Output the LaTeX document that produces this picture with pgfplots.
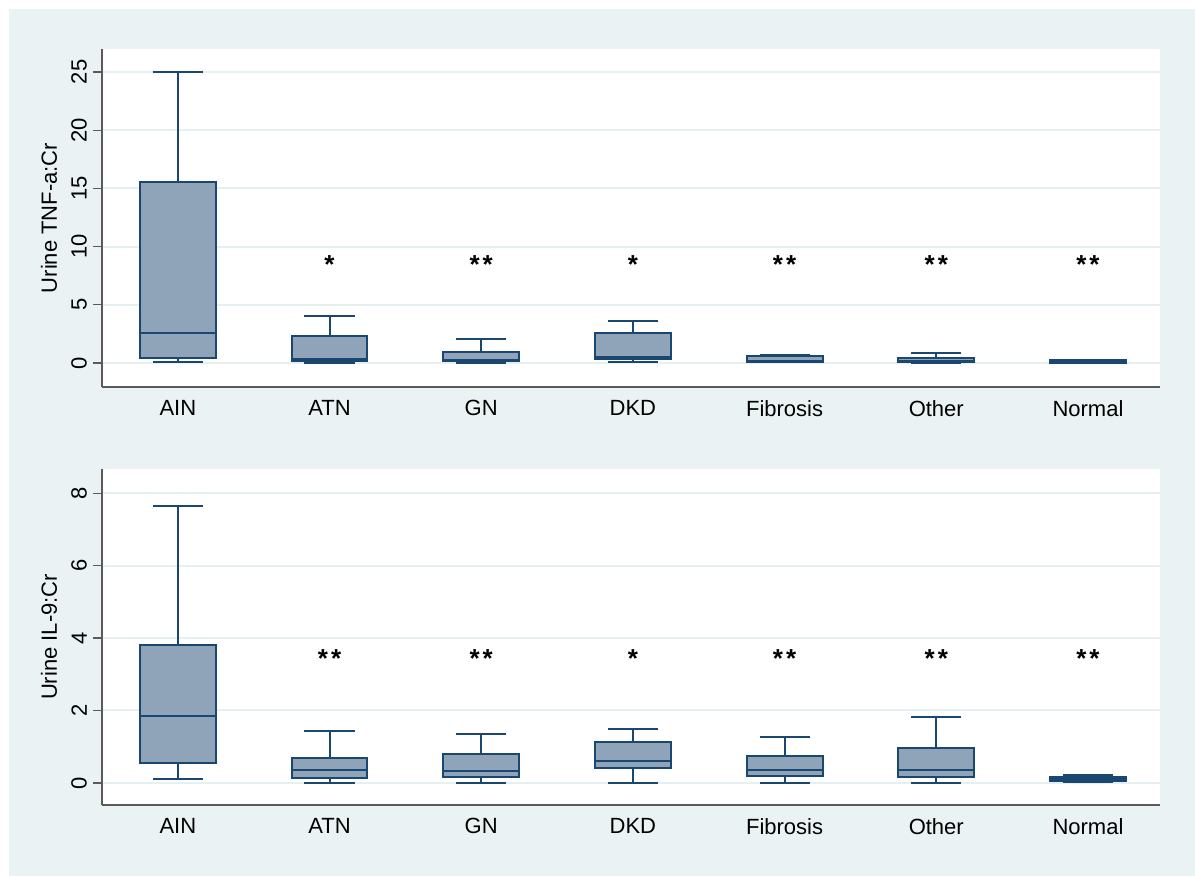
\documentclass[border=0pt]{standalone}
\usepackage{pgfplots}
\pgfplotsset{compat=1.18}
\usepgfplotslibrary{statistics}
\usepackage{fontspec}
\setmainfont{Liberation Sans}
\definecolor{bgcol}{HTML}{EAF2F3}
\definecolor{gridcol}{HTML}{E6EFF1}
\definecolor{edgecol}{HTML}{1A476F}
\definecolor{fillcol}{HTML}{8FA4B8}
\definecolor{axcol}{HTML}{5A5A5A}
\tikzset{starnode/.style={font=\fontsize{13}{15}\selectfont\bfseries, anchor=north, inner sep=0pt}}
\pgfplotsset{
  mystyle/.style={
    scale only axis,
    width=529pt,
    anchor=north west,
    xmin=0.5, xmax=7.475,
    axis x line*=bottom,
    axis y line*=left,
    axis line style={draw=axcol, line width=0.75pt},
    axis background/.style={fill=white},
    xtick={1,2,3,4,5,6,7},
    xticklabels={AIN,ATN,GN,DKD,Fibrosis,Other,Normal},
    x tick style={draw=none},
    y tick style={draw=axcol, line width=0.6pt},
    tick align=outside,
    major tick length=4.5pt,
    ymajorgrids,
    grid style={draw=gridcol, line width=1pt},
    /pgf/number format/assume math mode=true,
    tick label style={font=\fontsize{11}{13}\selectfont, text=black},
    xticklabel style={yshift=1.5pt},
    yticklabel style={rotate=90, anchor=south, yshift=-0.5pt},
    ylabel style={font=\fontsize{11}{13}\selectfont, at={(axis description cs:-0.050,0.5)}, anchor=center, rotate=0},
    boxplot/draw direction=y,
    boxplot/box extend=0.5,
    boxplot/whisker extend=0.33,
    clip=false,
  },
}
\newcommand{\bx}[6]{\addplot[draw=edgecol, fill=fillcol, line width=1pt, solid, boxplot prepared={draw position=#1, lower whisker=#2, lower quartile=#3, median=#4, upper quartile=#5, upper whisker=#6}] coordinates {};}
\newcommand{\one}{*}
\newcommand{\two}{*\kern1.5pt*}
\begin{document}
\begin{tikzpicture}
\fill[white] (0,0) rectangle (597.5pt,-438pt);
\fill[bgcol] (4.5pt,-4.5pt) rectangle (597.5pt,-438pt);
\begin{axis}[mystyle, at={(51pt,-24.5pt)}, height=169pt,
  ymin=-2.06, ymax=26.97, ytick={0,5,10,15,20,25},
  ylabel={Urine TNF-a:Cr}]
\bx{1}{0.05}{0.43}{2.57}{15.55}{25.0}
\bx{2}{0.03}{0.2}{0.35}{2.29}{4.06}
\bx{3}{0.04}{0.2}{0.28}{0.94}{2.09}
\bx{4}{0.05}{0.34}{0.5}{2.57}{3.57}
\bx{5}{0.05}{0.12}{0.2}{0.63}{0.71}
\bx{6}{0.03}{0.07}{0.2}{0.46}{0.86}
\bx{7}{0.02}{0.04}{0.14}{0.26}{0.29}
\node[starnode] at (axis cs:2,9.28) {\one};
\node[starnode] at (axis cs:3,9.28) {\two};
\node[starnode] at (axis cs:4,9.28) {\one};
\node[starnode] at (axis cs:5,9.28) {\two};
\node[starnode] at (axis cs:6,9.28) {\two};
\node[starnode] at (axis cs:7,9.28) {\two};
\end{axis}
\begin{axis}[mystyle, at={(51pt,-234.5pt)}, height=168pt,
  ymin=-0.61, ymax=8.67, ytick={0,2,4,6,8},
  ylabel={Urine IL-9:Cr}]
\bx{1}{0.10}{0.56}{1.84}{3.81}{7.65}
\bx{2}{0.01}{0.14}{0.37}{0.68}{1.44}
\bx{3}{0.01}{0.17}{0.32}{0.79}{1.34}
\bx{4}{0.01}{0.41}{0.60}{1.14}{1.48}
\bx{5}{0.01}{0.18}{0.36}{0.73}{1.28}
\bx{6}{0.01}{0.17}{0.37}{0.97}{1.83}
\bx{7}{0.03}{0.05}{0.10}{0.16}{0.23}
\node[starnode] at (axis cs:2,3.70) {\two};
\node[starnode] at (axis cs:3,3.70) {\two};
\node[starnode] at (axis cs:4,3.70) {\one};
\node[starnode] at (axis cs:5,3.70) {\two};
\node[starnode] at (axis cs:6,3.70) {\two};
\node[starnode] at (axis cs:7,3.70) {\two};
\end{axis}
\end{tikzpicture}
\end{document}
